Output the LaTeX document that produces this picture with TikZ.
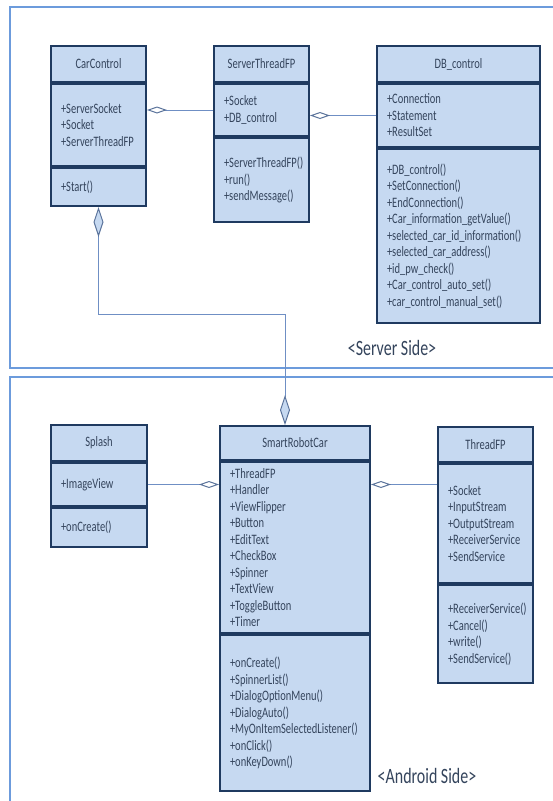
\documentclass[tikz,border=0pt]{standalone}
\usepackage{fontspec}
\setmainfont{Carlito}[FakeStretch=0.73]
\usetikzlibrary{positioning,arrows.meta}

\definecolor{classfill}{HTML}{C6D9F1}
\definecolor{classdraw}{HTML}{1F3A60}
\definecolor{classtext}{HTML}{34445C}
\definecolor{linkblue}{HTML}{6F8FC4}
\definecolor{linkdark}{HTML}{5A739B}
\definecolor{framelight}{HTML}{6C9BDC}
\hyphenpenalty=10000
\exhyphenpenalty=10000

\begin{document}
\begin{tikzpicture}
	[x=0.75pt, y=-0.75pt,
		classbox/.style	={rectangle, draw=classdraw, line width=1.5pt, fill=classfill,
									text=classtext, inner xsep=7.5pt, inner ysep=1pt,
									font=\fontsize{10.8}{12.4}\selectfont},
		title/.style		={classbox, align=center, anchor=north west},
		members/.style	={classbox, align=left},
		frame/.style		={draw=framelight, line width=1.1pt},
		side/.style		={text=classtext, font=\fontsize{16.4}{18}\selectfont},
		line/.style		={draw=linkblue, line width=0.75pt},
		agg h/.style		={>={Diamond[length=15pt,width=5.25pt,color=linkdark,fill=white]}, ->},
		agg v/.style		={>={Diamond[length=22.5pt,width=7.5pt,color=linkdark,fill=classfill]}, <->}
	]
\useasboundingbox (0,0) rectangle (553,801);

% frames
\draw [frame] (10,7) rectangle (600,368);
\draw [frame] (10,377) rectangle (600,830);

% server side
\node [title, text width=56.25pt, minimum height=27pt] (carcontrol) at (50,45) {CarControl};
\node [members, text width=56.25pt, minimum height=61.5pt, below=0pt of carcontrol] (carcontrol attr)
	{+ServerSocket\\+Socket\\+ServerThreadFP};
\node [members, text width=56.25pt, minimum height=28.5pt, below=0pt of carcontrol attr] (carcontrol op)
	{+Start()};

\node [title, text width=56.25pt, minimum height=27pt] (serverthreadfp) at (213,45) {ServerThreadFP};
\node [members, text width=56.25pt, minimum height=39pt, below=0pt of serverthreadfp] (serverthreadfp attr)
	{+Socket\\+DB\_control};
\node [members, text width=56.25pt, minimum height=63pt, below=0pt of serverthreadfp attr] (serverthreadfp op)
	{+ServerThreadFP()\\+run()\\+sendMessage()};

\node [title, text width=107.25pt, minimum height=27pt] (db) at (376,45) {DB\_control};
\node [members, text width=107.25pt, minimum height=47.25pt, below=0pt of db] (db attr)
	{+Connection\\+Statement\\+ResultSet};
\node [members, text width=107.25pt, minimum height=130.5pt, below=0pt of db attr] (db op)
	{+DB\_control()\\+SetConnection()\\+EndConnection()\\+Car\_information\_getValue()\\
	 +selected\_car\_id\_information()\\+selected\_car\_address()\\+id\_pw\_check()\\
	 +Car\_control\_auto\_set()\\+car\_control\_manual\_set()};

\node [side] (server label) at (392,348) {<Server Side>};

% android side
\node [title, text width=57pt, minimum height=27pt] (splash) at (50,424) {Splash};
\node [members, text width=57pt, minimum height=32.25pt, below=0pt of splash] (splash attr)
	{+ImageView};
\node [members, text width=57pt, minimum height=29.25pt, below=0pt of splash attr] (splash op)
	{+onCreate()};

\node [title, text width=97.5pt, minimum height=25.5pt] (smartrobotcar) at (219,425) {SmartRobotCar};
\node [members, text width=97.5pt, minimum height=128.25pt, below=0pt of smartrobotcar] (smartrobotcar attr)
	{+ThreadFP\\+Handler\\+ViewFlipper\\+Button\\+EditText\\+CheckBox\\+Spinner\\+TextView\\
	 +ToggleButton\\+Timer};
\node [members, text width=97.5pt, minimum height=117pt, below=0pt of smartrobotcar attr] (smartrobotcar op)
	{+onCreate()\\+SpinnerList()\\+DialogOptionMenu()\\+DialogAuto()\\
	 +MyOnItemSelectedListener()\\+onClick()\\+onKeyDown()};

\node [title, text width=56.25pt, minimum height=26.25pt] (threadfp) at (437,426) {ThreadFP};
\node [members, text width=56.25pt, minimum height=89.25pt, below=0pt of threadfp] (threadfp attr)
	{+Socket\\+InputStream\\+OutputStream\\+ReceiverService\\+SendService};
\node [members, text width=56.25pt, minimum height=73.5pt, below=0pt of threadfp attr] (threadfp op)
	{+ReceiverService()\\+Cancel()\\+write()\\+SendService()};

\node [side] (android label) at (427,776) {<Android Side>};

% links
\coordinate (elbow) at (285,314);
\begin{scope}[every path/.style=line]
	\path [agg h]	(serverthreadfp attr.west)	-- (serverthreadfp attr.west -| carcontrol attr.east);
	\path [agg h]	(db attr.west)					-- (db attr.west -| serverthreadfp attr.east);
	\path [agg v]	(elbow |- smartrobotcar.north)	-- (elbow) -| (carcontrol op.south);
	\path [agg h]	(splash attr.east)				-- (splash attr.east -| smartrobotcar attr.west);
	\path [agg h]	(threadfp attr.west |- splash attr.east) -- (splash attr.east -| smartrobotcar attr.east);
\end{scope}
\end{tikzpicture}
\end{document}
